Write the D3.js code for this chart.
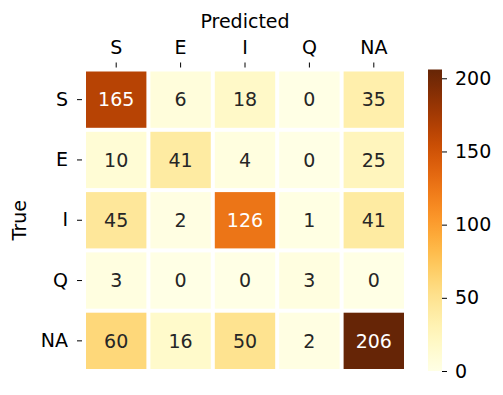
<!DOCTYPE html>
<html>
<head>
<meta charset="utf-8">
<script src="https://cdn.jsdelivr.net/npm/d3@7"></script>
<style>
  body { margin: 0; background: #fff; }
  text { font-family: "DejaVu Sans", sans-serif; }
</style>
</head>
<body>
<div id="chart"></div>
<script>
var labels = ["S", "E", "I", "Q", "NA"];
var matrix = [
  [165, 6, 18, 0, 35],
  [10, 41, 4, 0, 25],
  [45, 2, 126, 1, 41],
  [3, 0, 0, 3, 0],
  [60, 16, 50, 2, 206]
];
var cbTicks = [0, 50, 100, 150, 200];

var W = 503, H = 395;
var mLeft = 84, mTop = 69.5, mRight = 406, mBottom = 371;
var fs = 19;

var svg = d3.select("#chart").append("svg")
  .attr("width", W).attr("height", H);

var x = d3.scaleBand().domain(labels).range([mLeft, mRight]);
var y = d3.scaleBand().domain(labels).range([mTop, mBottom]);

var vmax = d3.max(matrix, r => d3.max(r));
var color = d3.scaleSequential(d3.interpolateYlOrBr).domain([0, vmax]);

var cells = [];
matrix.forEach(function(row, i) {
  row.forEach(function(v, j) {
    cells.push({t: labels[i], p: labels[j], v: v});
  });
});

var gap = 2;
svg.append("g").selectAll("rect")
  .data(cells).enter().append("rect")
    .attr("x", d => x(d.p) + gap)
    .attr("y", d => y(d.t) + gap)
    .attr("width", x.bandwidth() - 2 * gap)
    .attr("height", y.bandwidth() - 2 * gap)
    .attr("fill", d => color(d.v));

function lum(c) {
  var rgb = d3.rgb(c);
  var f = function(u) { u /= 255; return u <= 0.03928 ? u / 12.92 : Math.pow((u + 0.055) / 1.055, 2.4); };
  return 0.2126 * f(rgb.r) + 0.7152 * f(rgb.g) + 0.0722 * f(rgb.b);
}

svg.append("g").selectAll("text")
  .data(cells).enter().append("text")
    .attr("x", d => x(d.p) + x.bandwidth() / 2)
    .attr("y", d => y(d.t) + y.bandwidth() / 2)
    .attr("dy", "0.36em")
    .attr("text-anchor", "middle")
    .style("font-size", fs + "px")
    .attr("fill", d => lum(color(d.v)) > 0.408 ? "#262626" : "#ffffff")
    .text(d => d.v);

// top axis
var xAxis = svg.append("g")
  .attr("transform", "translate(0," + (mTop - 2) + ")")
  .call(d3.axisTop(x).tickSize(5).tickPadding(9));
xAxis.select(".domain").remove();
xAxis.selectAll("text").style("font-size", fs + "px").attr("fill", "#000").style("font-family", "DejaVu Sans");

// left axis
var yAxis = svg.append("g")
  .attr("transform", "translate(" + (mLeft - 2) + ",0)")
  .call(d3.axisLeft(y).tickSize(5).tickPadding(9));
yAxis.select(".domain").remove();
yAxis.selectAll("text").style("font-size", fs + "px").attr("fill", "#000").style("font-family", "DejaVu Sans");

svg.append("text")
  .attr("x", (mLeft + mRight) / 2)
  .attr("y", 28)
  .attr("text-anchor", "middle")
  .style("font-size", fs + "px")
  .text("Predicted");

svg.append("text")
  .attr("transform", "translate(26," + ((mTop + mBottom) / 2) + ") rotate(-90)")
  .attr("text-anchor", "middle")
  .style("font-size", fs + "px")
  .text("True");

// colorbar
var cbx = 428, cbw = 14;
var cy = d3.scaleLinear().domain([0, vmax]).range([mBottom, mTop]);
var defs = svg.append("defs");
var grad = defs.append("linearGradient")
  .attr("id", "cbgrad").attr("x1", 0).attr("y1", 1).attr("x2", 0).attr("y2", 0);
d3.range(0, 1.0001, 0.05).forEach(function(t) {
  grad.append("stop").attr("offset", t).attr("stop-color", color(t * vmax));
});
svg.append("rect")
  .attr("x", cbx).attr("y", mTop)
  .attr("width", cbw).attr("height", mBottom - mTop)
  .attr("fill", "url(#cbgrad)");

var cAxis = svg.append("g")
  .attr("transform", "translate(" + (cbx + cbw) + ",0)")
  .call(d3.axisRight(cy).tickValues(cbTicks).tickSize(5).tickPadding(8));
cAxis.select(".domain").remove();
cAxis.selectAll("text").style("font-size", fs + "px").attr("fill", "#000").style("font-family", "DejaVu Sans");
</script>
</body>
</html>
